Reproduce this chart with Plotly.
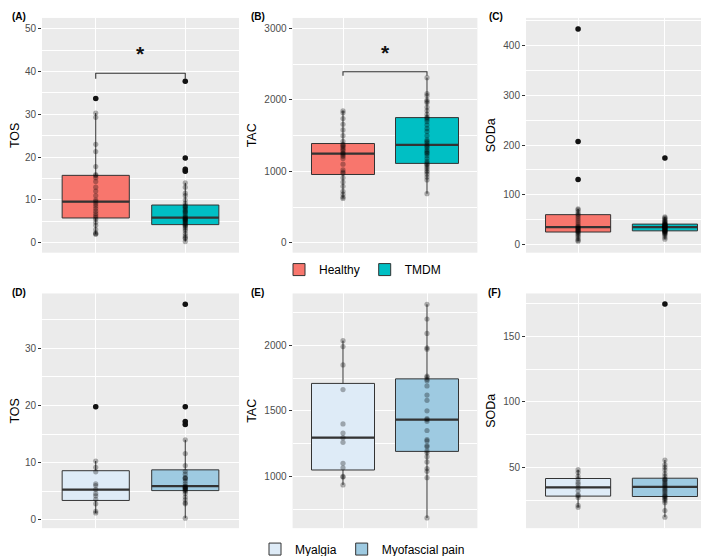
import numpy as np
import plotly.graph_objects as go

# ---------------- data ----------------
top_groups = ["Healthy", "TMDM"]
bottom_groups = ["Myalgia", "Myofascial pain"]

tos_healthy = [2.0, 2.1, 2.3, 3.1, 4.1, 4.8, 5.5, 5.9, 6.3, 6.8, 7.4, 8.0, 8.6, 9.1, 9.6,
               10.0, 11.0, 12.1, 13.0, 14.3, 15.2, 15.7, 15.9, 17.8, 21.3, 23.0, 29.3, 30.3, 33.7]
tos_tmdm = [0.3, 1.0, 1.2, 1.6, 2.2, 2.8, 3.2, 3.6, 3.9, 4.1, 4.3, 4.5, 4.7, 4.9, 5.1, 5.3, 5.4,
            5.5, 5.6, 5.8, 5.9, 6.1, 6.4, 6.9, 7.2, 7.4, 7.6, 8.0, 8.3, 8.5, 8.7, 9.2, 10.0, 11.0,
            11.6, 13.0, 14.0, 16.7, 17.2, 19.8, 37.7]
tac_healthy = [620, 640, 680, 720, 790, 850, 910, 971, 990, 1020, 1100, 1180, 1210, 1230, 1249,
               1260, 1290, 1310, 1330, 1350, 1365, 1380, 1420, 1500, 1580, 1660, 1740, 1820, 1849]
tac_tmdm = [687, 880, 920, 960, 990, 1010, 1040, 1060, 1085, 1100, 1115, 1140, 1180, 1220, 1250,
            1260, 1280, 1300, 1330, 1350, 1370, 1400, 1420, 1440, 1500, 1560, 1600, 1650, 1700,
            1730, 1751, 1760, 1800, 1850, 1900, 1960, 1980, 2000, 2060, 2090, 2313]
soda_healthy = [7, 9, 12, 16, 19, 22, 24, 25.9, 27, 28.5, 30, 31, 33, 34, 35.2, 37, 40, 44, 48,
                52, 56, 59.7, 62, 66, 70, 72, 131, 207, 433]
soda_tmdm = [11, 15, 19, 21, 23, 24, 25, 26, 26.8, 27.4, 27.9, 28.5, 29.2, 30, 30.8, 31.5, 32.3,
             33, 33.8, 34.5, 35.2, 35.8, 36.4, 37, 37.6, 38.2, 38.8, 39.4, 40, 40.6, 41.1, 42,
             43.5, 45, 46.5, 48, 50, 52, 54, 55.7, 174]

tos_myalgia = [1.2, 1.5, 2.8, 3.6, 4.2, 4.6, 5.3, 6.0, 6.3, 8.4, 9.2, 10.3, 19.8]
tos_myofascial = [0.3, 2.8, 3.0, 3.5, 4.0, 4.6, 5.0, 5.15, 5.3, 5.4, 5.5, 5.6, 5.7, 5.8, 5.9,
                  6.3, 6.8, 7.2, 7.3, 7.4, 8.0, 8.5, 9.5, 11.6, 14.0, 16.7, 17.2, 19.8, 37.7]
tac_myalgia = [935, 995, 1000, 1065, 1100, 1260, 1295, 1330, 1400, 1662, 1850, 1990, 2035]
tac_myofascial = [683, 990, 1040, 1060, 1110, 1150, 1180, 1194, 1225, 1235, 1270, 1280, 1350,
                  1420, 1433, 1440, 1500, 1580, 1620, 1690, 1730, 1740, 1755, 1765, 1970, 1980,
                  2090, 2200, 2312]
soda_myalgia = [19.3, 21, 27, 28.3, 29, 32, 34.6, 37, 38.5, 40.9, 43, 46, 48.2]
soda_myofascial = [11.9, 17, 23, 24.5, 25.5, 26.5, 27.3, 27.8, 28.5, 29.5, 31, 32, 33, 34.2,
                   35.1, 36, 37, 38, 39, 40, 40.6, 41.2, 43, 45, 48, 50, 52, 55.5, 174.6]

y_labels = ["TOS", "TAC", "SODa", "TOS", "TAC", "SODa"]
panel_letters = ["(A)", "(B)", "(C)", "(D)", "(E)", "(F)"]
y_ticks = [[0, 10, 20, 30, 40, 50], [0, 1000, 2000, 3000], [0, 100, 200, 300, 400],
           [0, 10, 20, 30], [1000, 1500, 2000], [50, 100, 150]]
sig_bracket_y = [[38.3, 39.6], [2340, 2396], None, None, None, None]
sig_star_y = [44.3, 2670, None, None, None, None]

# ---------------- styling ----------------
W, H = 709, 556
top_colors = ["#F8766D", "#00BFC4"]
bottom_colors = ["#DEEBF7", "#9ECAE1"]
FONT = "Liberation Sans, Arial, Helvetica, sans-serif"
label_pos = [(2, 1), (241, 1), (479, 1), (2, 278), (241, 278), (478, 278)]

panels = [
    dict(data=[tos_healthy, tos_tmdm], groups=top_groups, colors=top_colors, leg="legend",
         px=(34, 231), py=(10, 246), yr=(-2.3, 52.5), minor=5),
    dict(data=[tac_healthy, tac_tmdm], groups=top_groups, colors=top_colors, leg="legend",
         px=(284.6, 469.4), py=(10, 246), yr=(-140, 3150), minor=500),
    dict(data=[soda_healthy, soda_tmdm], groups=top_groups, colors=top_colors, leg="legend",
         px=(518, 709), py=(10, 246), yr=(-16, 455), minor=50),
    dict(data=[tos_myalgia, tos_myofascial], groups=bottom_groups, colors=bottom_colors,
         leg="legend2", px=(34, 231), py=(287, 523), yr=(-1.45, 39.6), minor=5),
    dict(data=[tac_myalgia, tac_myofascial], groups=bottom_groups, colors=bottom_colors,
         leg="legend2", px=(284.6, 469.4), py=(287, 523), yr=(605, 2395), minor=250),
    dict(data=[soda_myalgia, soda_myofascial], groups=bottom_groups, colors=bottom_colors,
         leg="legend2", px=(518, 709), py=(287, 523), yr=(3.5, 182.7), minor=25),
]

fig = go.Figure()
layout = {}
annotations = []

for i, p in enumerate(panels):
    k = i + 1
    xa = "x" if k == 1 else f"x{k}"
    ya = "y" if k == 1 else f"y{k}"
    xkey = "xaxis" if k == 1 else f"xaxis{k}"
    ykey = "yaxis" if k == 1 else f"yaxis{k}"
    for j, (vals, name, col) in enumerate(zip(p["data"], p["groups"], p["colors"])):
        pos = j + 1
        fig.add_trace(go.Box(
            x=[pos] * len(vals), y=vals, name=name, xaxis=xa, yaxis=ya,
            width=0.75, fillcolor=col, line=dict(color="#333333", width=1),
            whiskerwidth=0, boxpoints="outliers", pointpos=0, jitter=0,
            marker=dict(color="#1a1a1a", size=5.5),
            quartilemethod="linear", legend=p["leg"], showlegend=(i in (0, 3)),
            hoverinfo="skip"))
    for j, vals in enumerate(p["data"]):
        pos = j + 1
        med = float(np.median(vals))
        fig.add_trace(go.Scatter(
            x=[pos - 0.375, pos + 0.375], y=[med, med], mode="lines", xaxis=xa, yaxis=ya,
            line=dict(color="#333333", width=2.2), showlegend=False, hoverinfo="skip"))
        fig.add_trace(go.Scatter(
            x=[pos] * len(vals), y=vals, mode="markers", xaxis=xa, yaxis=ya,
            marker=dict(color="rgba(0,0,0,0.3)", size=5.2, line=dict(width=0)),
            showlegend=False, hoverinfo="skip"))
    if sig_bracket_y[i] is not None:
        lo, hi = sig_bracket_y[i]
        fig.add_trace(go.Scatter(
            x=[1, 1, 2, 2], y=[lo, hi, hi, lo], mode="lines", xaxis=xa, yaxis=ya,
            line=dict(color="#333333", width=1.1), showlegend=False, hoverinfo="skip"))
        annotations.append(dict(x=1.5, y=sig_star_y[i], xref=xa, yref=ya, text="<b>*</b>",
                                showarrow=False, font=dict(size=21, color="#111111", family=FONT)))

    layout[xkey] = dict(domain=[p["px"][0] / W, p["px"][1] / W], anchor=ya, range=[0.4, 2.6],
                        tickvals=[1, 2], showticklabels=False, ticks="", showgrid=True,
                        gridcolor="white", gridwidth=1.1, zeroline=False, showline=False)
    layout[ykey] = dict(domain=[1 - p["py"][1] / H, 1 - p["py"][0] / H], anchor=xa,
                        range=list(p["yr"]), tickvals=y_ticks[i], showgrid=True,
                        gridcolor="white", gridwidth=1.1, zeroline=False, showline=False,
                        ticks="outside", ticklen=3, tickwidth=1, tickcolor="#333333",
                        tickfont=dict(size=10, color="#4D4D4D", family=FONT),
                        title=dict(text=y_labels[i], font=dict(size=12.5, color="black", family=FONT),
                                   standoff=4),
                        minor=dict(dtick=p["minor"], showgrid=True, gridcolor="white",
                                   gridwidth=0.5, ticks=""))
    lx, ly = label_pos[i]
    annotations.append(dict(x=lx / W, y=1 - ly / H, xref="paper", yref="paper",
                            text="<b>" + panel_letters[i] + "</b>",
                            showarrow=False, xanchor="left", yanchor="top",
                            font=dict(size=10, color="black", family=FONT)))

fig.update_layout(
    width=W, height=H, margin=dict(l=0, r=0, t=0, b=0),
    paper_bgcolor="white", plot_bgcolor="#EBEBEB",
    font=dict(family=FONT),
    annotations=annotations,
    legend=dict(orientation="h", x=0.5, xanchor="center", y=1 - 263 / H, yanchor="middle",
                font=dict(size=12, color="black", family=FONT), bgcolor="rgba(0,0,0,0)",
                itemwidth=30, traceorder="normal"),
    legend2=dict(orientation="h", x=0.5, xanchor="center", y=1 - 544 / H, yanchor="middle",
                 font=dict(size=12, color="black", family=FONT), bgcolor="rgba(0,0,0,0)",
                 itemwidth=30, traceorder="normal"),
    **layout,
)

fig.write_html("out.html")
